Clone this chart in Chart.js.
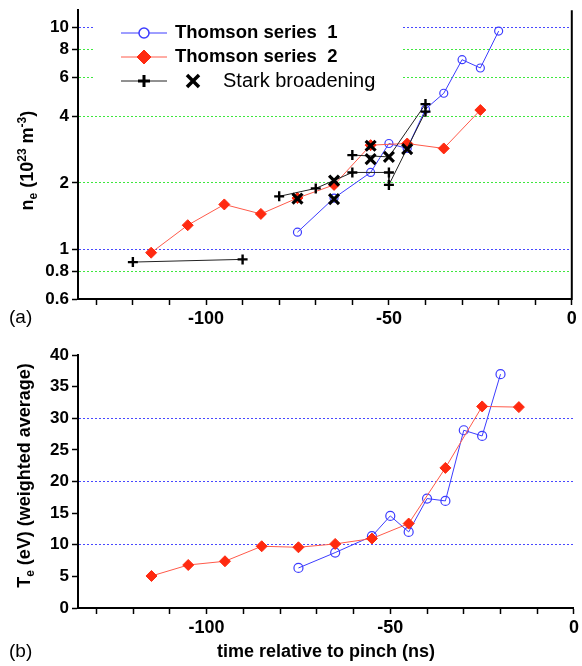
<!DOCTYPE html>
<html>
<head>
<meta charset="utf-8">
<script src="https://cdn.jsdelivr.net/npm/chart.js@4.4.1/dist/chart.umd.min.js"></script>
<style>
  body { margin: 0; background: #fff; }
  .panel { position: relative; width: 582px; height: 333px; }
</style>
</head>
<body>
<div class="panel"><canvas id="chartDensity"></canvas></div>
<div class="panel"><canvas id="chartTemp"></canvas></div>
<script>
// time axis, ns relative to pinch
const timeTicks = [-130, -120, -110, -100, -90, -80, -70, -60, -50, -40, -30, -20, -10, 0];
const timeLabels = [-100, -50, 0];

// (a) electron density, 10^23 m^-3
const neTicks = [0.6, 0.8, 1, 2, 4, 6, 8, 10];
const neBlueGrid = [1, 10];
const neGreenGrid = [0.8, 2, 4, 6, 8];

const thomson1Time = [-75, -65, -55, -50, -45, -40, -35, -30, -25, -20];
const thomson1Ne = [1.20, 1.71, 2.23, 3.01, 2.86, 4.30, 5.07, 7.18, 6.59, 9.66];

const thomson2Time = [-115, -105, -95, -85, -75, -65, -55, -45, -35, -25];
const thomson2Ne = [0.97, 1.29, 1.60, 1.45, 1.71, 1.96, 2.96, 3.01, 2.86, 4.26];

// Stark broadening: "+" points and the lines joining them
const starkPlusTime = [-120, -90, -80, -70, -60, -60, -50, -50, -40, -40];
const starkPlusNe = [0.88, 0.905, 1.74, 1.89, 2.67, 2.23, 2.23, 1.96, 4.53, 4.19];
const starkRunATime = [-120, -90];
const starkRunANe = [0.88, 0.905];
const starkRunBTime = [-80, -70, -60, -50, -50, -40];
const starkRunBNe = [1.74, 1.89, 2.23, 2.23, 1.96, 4.19];
const starkRunCTime = [-60, -50, -40];
const starkRunCNe = [2.67, 2.62, 4.53];

// Stark broadening: "x" points
const starkXTime = [-75, -65, -65, -55, -55, -50, -45];
const starkXNe = [1.70, 2.05, 1.69, 2.94, 2.56, 2.62, 2.84];

// (b) electron temperature, eV
const teTicks = [0, 5, 10, 15, 20, 25, 30, 35, 40];
const teBlueGrid = [10, 20, 30];

const thomson1Te = [6.33, 8.76, 11.35, 14.56, 12.03, 17.3, 16.93, 28.1, 27.2, 36.97];

const thomson2TeTime = [-115, -105, -95, -85, -75, -65, -55, -45, -35, -25, -15];
const thomson2Te = [5.06, 6.8, 7.39, 9.76, 9.6, 10.13, 10.98, 13.35, 22.15, 31.87, 31.76];

Chart.defaults.font.family = "'Liberation Sans', Arial, Helvetica, sans-serif";
Chart.defaults.color = '#000';

const BLUE = '#3c3cff';
const RED = '#ff2a10';
const RED_LINE = '#ff5a4a';
const GRID_BLUE = '#4848ff';
const GRID_GREEN = '#3ee83e';

const toXY = (xs, ys) => xs.map((x, i) => ({ x: x, y: ys[i] }));

function timeAxis(extra) {
    return Object.assign({
        type: 'linear',
        min: -135,
        max: 0,
        afterBuildTicks: s => { s.ticks = timeTicks.map(v => ({ value: v })); },
        ticks: {
            autoSkip: false,
            maxRotation: 0,
            padding: 3,
            font: { size: 18, weight: 'bold' },
            color: '#000',
            callback: v => timeLabels.includes(v) ? String(v) : ''
        },
        grid: { drawOnChartArea: false, color: '#000', tickLength: 6, tickWidth: 1.5 },
        border: { color: '#000', width: 2 }
    }, extra);
}

function gridColor(blue, green) {
    return c => {
        if (!c.tick) return 'rgba(0,0,0,0)';
        if (blue.includes(c.tick.value)) return GRID_BLUE;
        if (green.includes(c.tick.value)) return GRID_GREEN;
        return 'rgba(0,0,0,0)';
    };
}

// rotated axis title with sub/superscripts
function drawRichVertical(ctx, parts, cx, cy) {
    const big = "bold 18px 'Liberation Sans', Arial, sans-serif";
    const small = "bold 12px 'Liberation Sans', Arial, sans-serif";
    ctx.save();
    ctx.translate(cx, cy);
    ctx.rotate(-Math.PI / 2);
    ctx.fillStyle = '#000';
    ctx.textBaseline = 'alphabetic';
    ctx.textAlign = 'left';
    let total = 0;
    parts.forEach(p => { ctx.font = p.s ? small : big; total += ctx.measureText(p.t).width; });
    let x = -total / 2;
    parts.forEach(p => {
        ctx.font = p.s ? small : big;
        const dy = p.s === 'sub' ? 4 : p.s === 'sup' ? -7 : 0;
        ctx.fillText(p.t, x, 6.5 + dy);
        x += ctx.measureText(p.t).width;
    });
    ctx.restore();
}

function marker(ctx, style, radius, width, color, fill, x, y) {
    ctx.save();
    ctx.strokeStyle = color;
    ctx.fillStyle = fill;
    ctx.lineWidth = width;
    Chart.helpers.drawPoint(ctx, { pointStyle: style, radius: radius, borderWidth: width, rotation: 0 }, x, y);
    ctx.restore();
}

const panelDecor = {
    id: 'panelDecor',
    afterDraw(chart, args, opts) {
        const ctx = chart.ctx;
        const area = chart.chartArea;
        ctx.save();
        if (opts.rightBorder) {
            ctx.strokeStyle = '#000';
            ctx.lineWidth = 2;
            ctx.beginPath();
            ctx.moveTo(area.right, area.top);
            ctx.lineTo(area.right, area.bottom + 1);
            ctx.stroke();
        }
        // panel letter
        ctx.fillStyle = '#000';
        ctx.font = "19px 'Liberation Sans', Arial, sans-serif";
        ctx.textBaseline = 'middle';
        ctx.textAlign = 'left';
        ctx.fillText(opts.letter, 9, opts.letterY);
        drawRichVertical(ctx, opts.yTitle, opts.yTitleX, (area.top + area.bottom) / 2 + opts.yTitleShift);

        if (opts.legend) {
            ctx.fillStyle = '#fff';
            ctx.fillRect(95, 12, 307, 86);
            const rows = [
                { y: 33, line: BLUE },
                { y: 57, line: RED_LINE },
                { y: 81, line: '#222' }
            ];
            rows.forEach(r => {
                ctx.strokeStyle = r.line;
                ctx.lineWidth = 1;
                ctx.beginPath();
                ctx.moveTo(121, r.y);
                ctx.lineTo(167, r.y);
                ctx.stroke();
            });
            marker(ctx, 'circle', 5, 1.5, BLUE, '#fff', 144, 33);
            marker(ctx, 'rectRot', 7, 1, RED, RED, 144, 57);
            marker(ctx, 'cross', 6, 3, '#000', '#000', 144, 81);
            marker(ctx, 'crossRot', 8.5, 3.5, '#000', '#000', 193, 81);
            ctx.fillStyle = '#000';
            ctx.textBaseline = 'middle';
            ctx.font = "bold 18.5px 'Liberation Sans', Arial, sans-serif";
            ctx.fillText('Thomson series  1', 175, 33);
            ctx.fillText('Thomson series  2', 175, 57);
            ctx.font = "20px 'Liberation Sans', Arial, sans-serif";
            ctx.fillText('Stark broadening', 223, 81);
        }
        ctx.restore();
    }
};

function blueSeries(data, r) {
    return {
        data: data, borderColor: BLUE, borderWidth: 1, backgroundColor: '#fff',
        pointStyle: 'circle', pointRadius: r, pointBorderWidth: 1.2,
        pointBorderColor: BLUE, pointBackgroundColor: 'rgba(255,255,255,0)', tension: 0
    };
}

function redSeries(data) {
    return {
        data: data, borderColor: RED_LINE, borderWidth: 1, backgroundColor: RED,
        pointStyle: 'rectRot', pointRadius: 5.5, pointBorderWidth: 1,
        pointBorderColor: RED, pointBackgroundColor: RED, tension: 0
    };
}

function starkRun(data) {
    return { data: data, borderColor: '#222', borderWidth: 1, pointRadius: 0, tension: 0 };
}

const commonOpts = {
    responsive: true,
    maintainAspectRatio: false,
    animation: false,
    events: []
};

new Chart(document.getElementById('chartDensity'), {
    type: 'line',
    data: {
        datasets: [
            {
                data: toXY(starkXTime, starkXNe), showLine: false,
                pointStyle: 'crossRot', pointRadius: 7, pointBorderWidth: 3.2,
                pointBorderColor: '#000', pointBackgroundColor: '#000'
            },
            {
                data: toXY(starkPlusTime, starkPlusNe), showLine: false,
                pointStyle: 'cross', pointRadius: 5, pointBorderWidth: 2.4,
                pointBorderColor: '#000', pointBackgroundColor: '#000'
            },
            starkRun(toXY(starkRunATime, starkRunANe)),
            starkRun(toXY(starkRunBTime, starkRunBNe)),
            starkRun(toXY(starkRunCTime, starkRunCNe)),
            redSeries(toXY(thomson2Time, thomson2Ne)),
            blueSeries(toXY(thomson1Time, thomson1Ne), 4)
        ]
    },
    options: Object.assign({}, commonOpts, {
        layout: { padding: { top: 4, right: 4, left: 0, bottom: 0 } },
        plugins: {
            legend: { display: false },
            tooltip: { enabled: false },
            panelDecor: {
                rightBorder: true, letter: '(a)', letterY: 318, legend: true,
                yTitleX: 26, yTitleShift: 6,
                yTitle: [
                    { t: 'n' }, { t: 'e', s: 'sub' }, { t: ' (10' }, { t: '23', s: 'sup' },
                    { t: ' m' }, { t: '-3', s: 'sup' }, { t: ')' }
                ]
            }
        },
        scales: {
            x: timeAxis({ afterFit: s => { s.height = 34; } }),
            y: {
                type: 'logarithmic',
                min: 0.6,
                max: 12,
                afterBuildTicks: s => { s.ticks = neTicks.map(v => ({ value: v })); },
                afterFit: s => { s.width = 78; s.paddingTop = 0; s.paddingBottom = 0; },
                ticks: {
                    autoSkip: false, padding: 3,
                    font: { size: 17, weight: 'bold' }, color: '#000',
                    callback: v => String(v)
                },
                grid: {
                    color: gridColor(neBlueGrid, neGreenGrid),
                    lineWidth: 1,
                    tickColor: '#000', tickWidth: 1.5, tickBorderDash: [0, 0], tickLength: 6
                },
                border: { color: '#000', width: 2, dash: [2, 2] }
            }
        }
    }),
    plugins: [panelDecor]
});

new Chart(document.getElementById('chartTemp'), {
    type: 'line',
    data: {
        datasets: [
            redSeries(toXY(thomson2TeTime, thomson2Te)),
            blueSeries(toXY(thomson1Time, thomson1Te), 4.5)
        ]
    },
    options: Object.assign({}, commonOpts, {
        layout: { padding: { top: 22, right: 4, left: 0, bottom: 0 } },
        plugins: {
            legend: { display: false },
            tooltip: { enabled: false },
            panelDecor: {
                rightBorder: false, letter: '(b)', letterY: 319, legend: false,
                yTitleX: 23, yTitleShift: -6,
                yTitle: [{ t: 'T' }, { t: 'e', s: 'sub' }, { t: ' (eV) (weighted average)' }]
            }
        },
        scales: {
            x: timeAxis({
                afterFit: s => { s.height = 58; },
                title: {
                    display: true, text: 'time relative to pinch (ns)',
                    font: { size: 18, weight: 'bold' }, color: '#000',
                    padding: { top: 0, bottom: 3 }
                }
            }),
            y: {
                type: 'linear',
                min: 0,
                max: 40,
                afterBuildTicks: s => { s.ticks = teTicks.map(v => ({ value: v })); },
                afterFit: s => { s.width = 78; },
                ticks: {
                    autoSkip: false, padding: 3,
                    font: { size: 17, weight: 'bold' }, color: '#000'
                },
                grid: {
                    color: gridColor(teBlueGrid, []),
                    lineWidth: 1,
                    tickColor: '#000', tickWidth: 1.5, tickBorderDash: [0, 0], tickLength: 6
                },
                border: { color: '#000', width: 2, dash: [2, 2] }
            }
        }
    }),
    plugins: [panelDecor]
});
</script>
</body>
</html>
